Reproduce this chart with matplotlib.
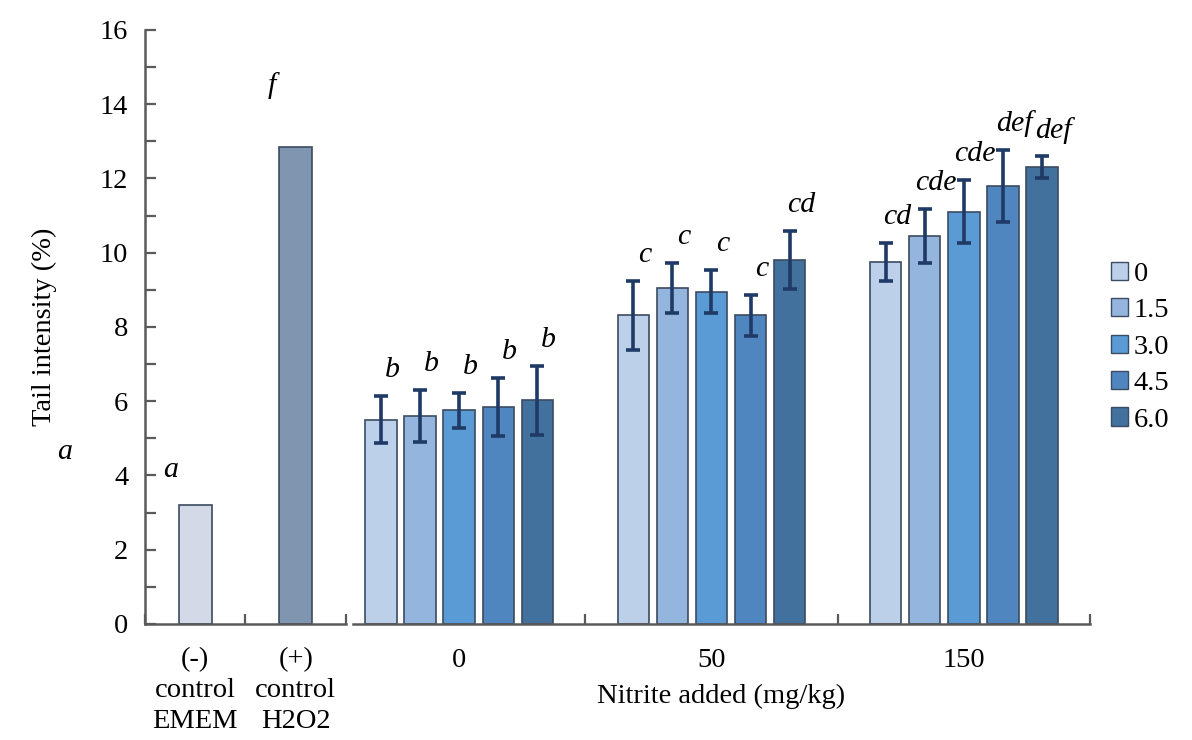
import matplotlib.pyplot as plt
import numpy as np
from matplotlib.patches import Patch
from matplotlib.ticker import FixedLocator, MultipleLocator

plt.rcParams['font.family'] = ['Liberation Serif', 'DejaVu Serif']
plt.rcParams['font.size'] = 20.5

# controls
ctrl_labels = ['(-)\ncontrol\nEMEM', '(+)\ncontrol\nH2O2']
ctrl_values = [3.2, 12.85]
ctrl_letters = ['a', 'f']
ctrl_letter_gap = [0.95, 1.65]

# nitrite groups x dose series
groups = ['0', '50', '150']
doses = ['0', '1.5', '3.0', '4.5', '6.0']
means = np.array([
    [5.50, 5.59, 5.75, 5.84, 6.02],
    [8.31, 9.05, 8.95, 8.31, 9.81],
    [9.75, 10.45, 11.10, 11.80, 12.30],
])
errs = np.array([
    [0.63, 0.70, 0.48, 0.78, 0.93],
    [0.92, 0.67, 0.58, 0.54, 0.78],
    [0.52, 0.72, 0.85, 0.98, 0.30],
])
letters = [
    ['b', 'b', 'b', 'b', 'b'],
    ['c', 'c', 'c', 'c', 'cd'],
    ['cd', 'cde', 'cde', 'def', 'def'],
]

ctrl_colors = ['#d3d9e6', '#8095b0']
dose_colors = ['#bdd0ea', '#94b5dd', '#5b9bd5', '#4f86bf', '#41719c']
edge = '#3b4b60'
err_color = '#1f3a66'
spine_color = '#5a5a5a'

fig = plt.figure(figsize=(11.92, 7.40), dpi=100)
ax1 = fig.add_axes([0.1216, 0.1568, 0.1687, 0.8027])
ax2 = fig.add_axes([0.2961, 0.1568, 0.6183, 0.8027])

# left panel: controls
xc = np.arange(len(ctrl_values)) + 0.5
ax1.bar(xc, ctrl_values, width=0.33, color=ctrl_colors, edgecolor=edge, linewidth=1.2)
for x, v, t, g in zip(xc, ctrl_values, ctrl_letters, ctrl_letter_gap):
    ax1.text(x - 0.24, v + g, t, ha='center', va='center', style='italic', fontsize=21.5)
ax1.set_xlim(0, 2)
ax1.set_ylim(0, 16)
ax1.set_xticks(xc)
ax1.set_xticklabels(ctrl_labels, linespacing=1.3)
ax1.xaxis.set_minor_locator(FixedLocator([0, 1, 2]))
ax1.yaxis.set_major_locator(MultipleLocator(2))
ax1.yaxis.set_minor_locator(MultipleLocator(1))
ax1.tick_params(axis='x', which='major', length=0, pad=17)
ax1.tick_params(axis='x', which='minor', direction='in', length=7, width=1.6, color=spine_color)
ax1.tick_params(axis='y', which='both', direction='in', length=8, width=1.6, color=spine_color, pad=12)
ax1.set_ylabel('Tail intensity (%)', labelpad=31)
for s in ['top', 'right']:
    ax1.spines[s].set_visible(False)
for s in ['left', 'bottom']:
    ax1.spines[s].set_color(spine_color)
    ax1.spines[s].set_linewidth(1.8)

# right panel: nitrite groups
pitch = 0.155
width = 0.125
gx = np.arange(len(groups)) + 0.5
for j, d in enumerate(doses):
    x = gx + (j - 2) * pitch
    ax2.bar(x, means[:, j], width=width, color=dose_colors[j], edgecolor=edge,
            linewidth=1.2, label=d)
    ax2.errorbar(x, means[:, j], yerr=errs[:, j], fmt='none', ecolor=err_color,
                 elinewidth=2.6, capsize=5, capthick=2.6)
    for i in range(len(groups)):
        ax2.text(x[i] + 0.045, means[i, j] + errs[i, j] + 0.7, letters[i][j],
                 ha='center', va='center', style='italic', fontsize=21.5)

ax2.set_xlim(0.079, 3.0)
ax2.set_ylim(0, 16)
ax2.set_xticks(gx)
ax2.set_xticklabels(groups)
ax2.xaxis.set_minor_locator(FixedLocator([1, 2, 3]))
ax2.tick_params(axis='x', which='major', length=0, pad=17)
ax2.tick_params(axis='x', which='minor', direction='in', length=7, width=1.6, color=spine_color)
ax2.set_yticks([])
ax2.set_xlabel('Nitrite added (mg/kg)', labelpad=8)
for s in ['top', 'right', 'left']:
    ax2.spines[s].set_visible(False)
ax2.spines['bottom'].set_color(spine_color)
ax2.spines['bottom'].set_linewidth(1.8)

fig.text(65 / 1192, 1 - 452 / 740, 'a', style='italic', ha='center', va='center', fontsize=21.5)

handles = [Patch(facecolor=c, edgecolor=edge, linewidth=1.0) for c in dose_colors]
fig.legend(handles, doses, loc='center left', bbox_to_anchor=(0.92, 0.531),
           frameon=False, handlelength=0.6, handleheight=0.6, handletextpad=0.2,
           labelspacing=0.4, borderpad=0)

fig.savefig('out.png', dpi=100)
